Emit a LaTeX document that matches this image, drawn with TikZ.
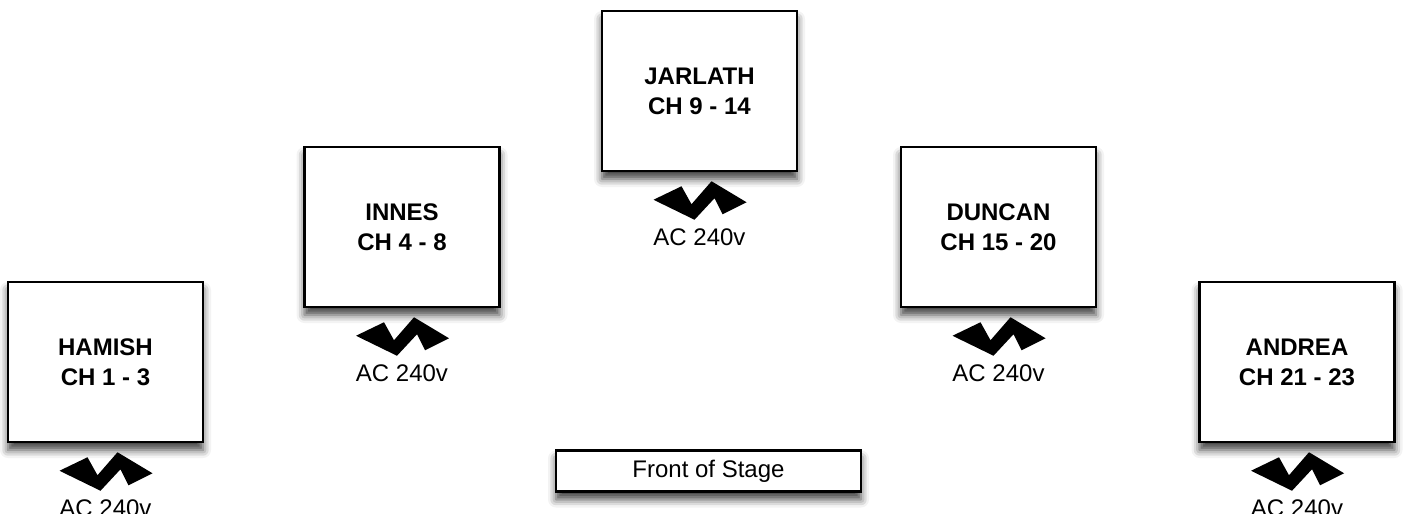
\documentclass[tikz,border=0pt]{standalone}
\usepackage{fontspec}
\setmainfont{Liberation Sans}
\usetikzlibrary{calc,shadows.blur}
\begin{document}
\begin{tikzpicture}[x=1pt,y=-1pt,
  player/.style={draw=black, line width=2.5pt, fill=white, inner sep=0pt,
    minimum width=195pt, minimum height=160pt, align=center,
    font=\fontsize{24}{30}\selectfont\bfseries,
    blur shadow={shadow xshift=0pt, shadow yshift=-8pt, shadow blur radius=8pt, shadow opacity=75}},
  frontbox/.style={draw=black, line width=2.5pt, fill=white, inner sep=0pt,
    minimum width=305pt, minimum height=41pt,
    font=\fontsize{24}{30}\selectfont,
    blur shadow={shadow xshift=0pt, shadow yshift=-8pt, shadow blur radius=8pt, shadow opacity=75}},
  aclabel/.style={inner sep=0pt, font=\fontsize{24}{30}\selectfont},
  zap/.pic={\fill[black] (-46,0.5) -- (-18,-13) -- (-8,5) -- (12,-18) -- (47,3)
      -- (23,15) -- (15,-1) -- (-5,20.5) -- cycle;}
]
\useasboundingbox (0,0) rectangle (1403,514);

\node[player] (hamish)  at (105.5,362) {HAMISH\\CH 1 - 3};
\node[player] (innes)   at (402,227)   {INNES\\CH 4 - 8};
\node[player] (jarlath) at (699.5,91)  {JARLATH\\CH 9 - 14};
\node[player] (duncan)  at (998.5,227) {DUNCAN\\CH 15 - 20};
\node[player] (andrea)  at (1297,362)  {ANDREA\\CH 21 - 23};

\node[frontbox] (front) at (708.5,471) {Front of Stage};

\foreach \n in {hamish,innes,jarlath,duncan,andrea}{
  \pic at ($(\n.south)+(0,27)$) {zap};
  \node[aclabel] (ac-\n) at ($(\n.south)+(0,65)$) {AC 240v};
}
\end{tikzpicture}
\end{document}
